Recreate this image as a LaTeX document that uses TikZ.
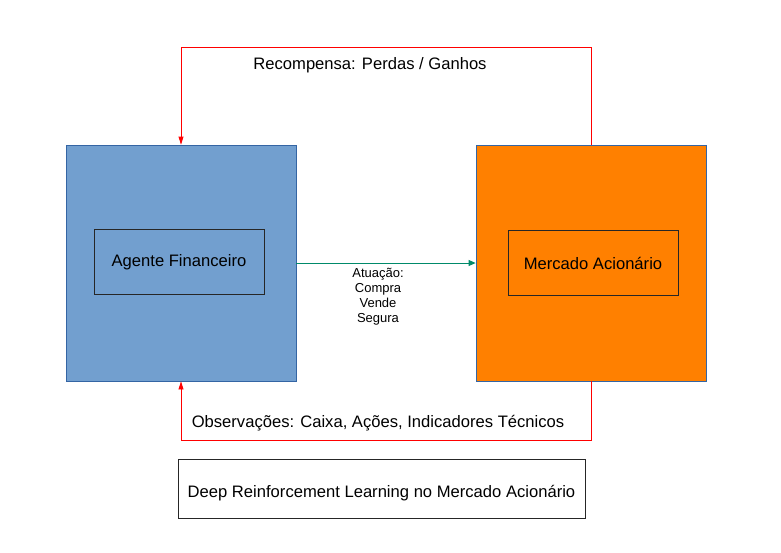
\documentclass[tikz,border=0pt]{standalone}
\usepackage{fontspec}
\setmainfont{Liberation Sans}
\usetikzlibrary{arrows.meta}
\definecolor{boxblue}{HTML}{729FCF}
\definecolor{edgeblue}{HTML}{3465A4}
\definecolor{mktorange}{HTML}{FF8000}
\definecolor{actgreen}{HTML}{008A6A}
\tikzset{
  bigbox/.style={draw=edgeblue,line width=0.8pt,minimum width=230pt,minimum height=236pt,inner sep=0pt},
  innerbox/.style={draw=black!85,line width=1pt,minimum width=170pt,minimum height=65pt,inner sep=0pt},
  feedback/.style={draw=red,line width=0.8pt},
  tip/.style={-{Triangle[length=8pt,width=5pt]}}
}
\begin{document}
\begin{tikzpicture}[x=1pt,y=-1pt,font=\fontsize{16.6}{20}\selectfont]
        \useasboundingbox (0,0) rectangle (781,552);

        \begin{scope}[every node/.style={bigbox}]
          \node[fill=boxblue]   (agente)  at (181,263) {};
          \node[fill=mktorange] (mercado) at (591,263) {};
        \end{scope}

        \begin{scope}[every node/.style={innerbox}]
          \node (agentetxt)  at (179,262) {Agente Financeiro};
          \node (mercadotxt) at (593,263) {Mercado Acionário};
        \end{scope}

        \node[draw=black!85,line width=1pt,minimum width=407pt,minimum height=59pt,inner sep=0pt,
              text height=17.6pt,text depth=0pt]
          (titulo) at (381.5,488.5) {Deep Reinforcement Learning no Mercado Acionário};

        % feedback loops
        \coordinate (topR) at (591,47);
        \coordinate (topL) at (181,47);
        \coordinate (botR) at (591,440);
        \coordinate (botL) at (181,440);

        \draw[feedback,tip] (mercado.north) -- (topR) -- (topL) -- (agente.north);
        \draw[feedback,tip] (mercado.south) -- (botR) -- (botL) -- (agente.south);

        \node (recompensa) at (370,65)  {Recompensa: Perdas / Ganhos};
        \node (observacoes) at (378,423.5) {Observações: Caixa, Ações, Indicadores Técnicos};

        % action
        \draw[actgreen,line width=0.8pt,-{Triangle[length=7pt,width=6pt]}] (agente.east) -- (mercado.west);
        \node[align=center,font=\fontsize{13}{15}\selectfont] (atuacao) at (378,297)
          {Atuação:\\Compra\\Vende\\Segura};

      \end{tikzpicture}
\end{document}
